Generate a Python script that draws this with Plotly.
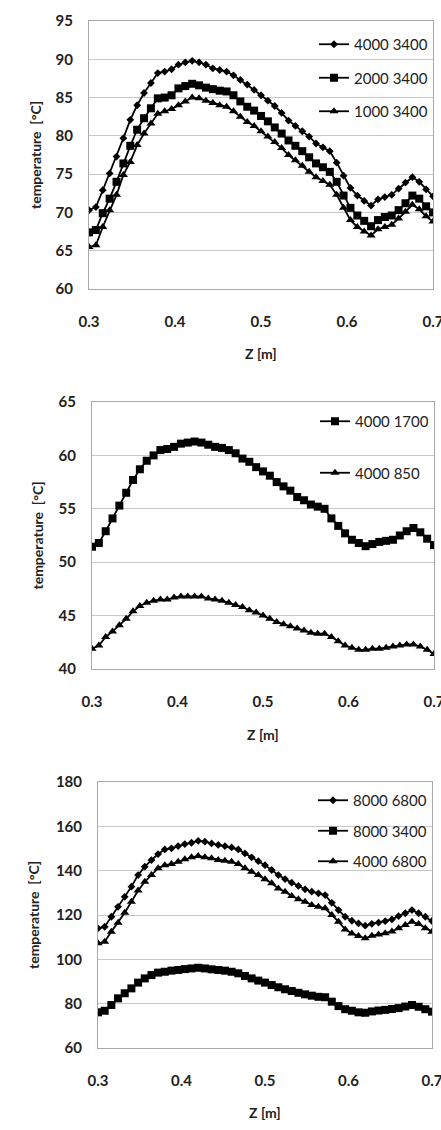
import plotly.graph_objects as go

# ---------------- data ----------------
z = [round(0.3 + 0.008 * i, 3) for i in range(51)]

# Panel 1
p1_4000_3400 = [70.3, 70.7, 72.9, 75.1, 77.3, 79.7, 82.1, 84.0, 85.6, 86.9,
                88.2, 88.4, 88.7, 89.3, 89.6, 89.8, 89.6, 89.3, 88.8, 88.6,
                88.4, 87.9, 87.3, 86.7, 86.0, 85.3, 84.6, 83.9, 83.0, 82.0,
                81.3, 80.6, 79.9, 79.0, 78.5, 78.0, 76.5, 74.8, 73.2, 72.2,
                71.5, 70.9, 71.7, 72.0, 72.3, 73.1, 73.9, 74.6, 74.0, 73.0,
                72.1]
p1_2000_3400 = [67.4, 67.7, 69.9, 71.8, 74.0, 76.4, 78.7, 80.8, 82.3, 83.6,
                84.9, 85.0, 85.3, 86.2, 86.5, 86.8, 86.6, 86.3, 86.1, 85.9,
                85.8, 85.3, 84.5, 83.8, 83.3, 82.6, 81.9, 81.1, 80.3, 79.4,
                78.7, 78.0, 77.2, 76.4, 75.9, 75.3, 74.0, 72.2, 70.6, 69.6,
                68.9, 68.2, 69.0, 69.4, 69.6, 70.3, 71.2, 72.2, 71.8, 70.8,
                70.0]
p1_1000_3400 = [65.5, 65.7, 68.1, 70.3, 72.3, 74.9, 76.6, 78.8, 80.3, 81.6,
                82.9, 83.2, 83.5, 84.0, 84.5, 85.0, 84.9, 84.6, 84.3, 84.0,
                83.8, 83.2, 82.5, 81.8, 81.3, 80.6, 79.9, 79.2, 78.4, 77.5,
                76.8, 76.1, 75.3, 74.6, 74.1, 73.6, 72.3, 70.6, 69.0, 68.1,
                67.5, 67.0, 67.8, 68.1, 68.4, 69.2, 70.1, 71.0, 70.4, 69.5,
                68.8]

# Panel 2
p2_4000_1700 = [51.45, 51.8, 52.9, 54.1, 55.3, 56.5, 57.7, 58.7, 59.5, 60.0,
                60.5, 60.6, 60.8, 61.1, 61.2, 61.3, 61.2, 61.0, 60.8, 60.7,
                60.5, 60.2, 59.7, 59.4, 58.9, 58.5, 58.1, 57.5, 57.1, 56.7,
                56.1, 55.8, 55.4, 55.2, 55.0, 54.1, 53.4, 52.7, 52.1, 51.8,
                51.5, 51.7, 51.9, 52.0, 52.1, 52.5, 52.9, 53.2, 52.8, 52.2,
                51.6]
p2_4000_850 = [41.9, 42.2, 43.0, 43.5, 44.1, 44.7, 45.4, 45.9, 46.2, 46.4,
               46.5, 46.5, 46.7, 46.8, 46.8, 46.8, 46.8, 46.6, 46.5, 46.4,
               46.2, 46.0, 45.8, 45.5, 45.3, 45.0, 44.7, 44.4, 44.2, 44.0,
               43.8, 43.6, 43.4, 43.3, 43.3, 43.0, 42.6, 42.2, 42.0, 41.8,
               41.8, 41.9, 41.9, 42.0, 42.1, 42.2, 42.3, 42.3, 42.1, 41.8,
               41.4]

# Panel 3
p3_8000_6800 = [114.0, 114.7, 119.2, 123.7, 128.2, 132.8, 138.0, 141.8, 144.8, 147.5,
                149.6, 150.1, 151.1, 152.0, 152.6, 153.4, 153.1, 152.3, 151.6, 151.1,
                150.5, 149.6, 147.8, 146.0, 144.3, 142.5, 140.3, 138.0, 136.2, 134.6,
                133.1, 131.6, 130.5, 129.8, 129.0, 125.5, 122.2, 119.2, 117.4, 116.2,
                115.2, 116.0, 116.6, 117.2, 118.0, 119.5, 120.8, 122.2, 120.8, 119.2,
                117.3]
p3_8000_3400 = [76.1, 76.8, 79.4, 82.4, 84.7, 86.9, 89.5, 91.4, 92.9, 94.0,
                94.4, 94.9, 95.2, 95.6, 95.9, 96.2, 95.9, 95.5, 95.2, 94.9,
                94.4, 93.7, 92.5, 91.4, 90.4, 89.5, 88.4, 87.4, 86.5, 85.7,
                84.9, 84.2, 83.6, 83.1, 82.9, 80.9, 78.9, 77.5, 76.8, 76.1,
                75.9, 76.5, 76.9, 77.2, 77.6, 78.0, 78.7, 79.4, 78.6, 77.5,
                76.4]
p3_4000_6800 = [107.2, 107.9, 112.5, 116.5, 121.0, 126.0, 131.0, 135.0, 138.0, 141.1,
                142.5, 143.0, 144.0, 145.1, 146.0, 146.6, 146.0, 145.6, 144.8, 144.5,
                144.0, 143.0, 141.1, 139.5, 138.0, 136.1, 134.3, 132.0, 130.5, 128.6,
                127.1, 126.0, 124.5, 123.7, 123.0, 120.0, 117.0, 113.5, 111.7, 110.5,
                109.5, 110.6, 111.2, 111.8, 112.6, 114.0, 115.5, 117.0, 115.9, 114.0,
                112.5]

x_ticks = [0.3, 0.4, 0.5, 0.6, 0.7]
y1_ticks = [60, 65, 70, 75, 80, 85, 90, 95]
y2_ticks = [40, 45, 50, 55, 60, 65]
y3_ticks = [60, 80, 100, 120, 140, 160, 180]

x_title = "Z [m]"
y_title = "temperature  [°C]"

# ---------------- figure ----------------
W, H = 441, 1130
FONT = "Lato"
fig = go.Figure()

MK = {"diamond": ("diamond", 6), "square": ("square", 8), "triangle": ("triangle-up", 8)}

def add(x, y, name, mk, xa, ya, leg, grp):
    sym, size = MK[mk]
    fig.add_trace(go.Scatter(
        x=x, y=y, name=name, mode="lines+markers",
        line=dict(color="black", width=1.8),
        marker=dict(symbol=sym, size=size, color="black"),
        xaxis=xa, yaxis=ya, legend=leg, legendgroup=grp,
    ))

add(z, p1_4000_3400, "4000 3400", "diamond", "x", "y", "legend", "a1")
add(z, p1_2000_3400, "2000 3400", "square", "x", "y", "legend", "a2")
add(z, p1_1000_3400, "1000 3400", "triangle", "x", "y", "legend", "a3")
add(z, p2_4000_1700, "4000 1700", "square", "x2", "y2", "legend2", "b1")
add(z, p2_4000_850, "4000 850", "triangle", "x2", "y2", "legend2", "b2")
add(z, p3_8000_6800, "8000 6800", "diamond", "x3", "y3", "legend3", "c1")
add(z, p3_8000_3400, "8000 3400", "square", "x3", "y3", "legend3", "c2")
add(z, p3_4000_6800, "4000 6800", "triangle", "x3", "y3", "legend3", "c3")

# plot areas in pixels (left, right, top, bottom)
areas = [(89, 433, 21, 289), (92, 434, 402, 669), (98, 432, 782, 1048)]
yranges = [(60, 95), (40, 65), (60, 180)]
yticks = [y1_ticks, y2_ticks, y3_ticks]

tickfont = dict(family=FONT, size=15, color="#222222", weight="bold")
layout = {}
for k, ((l, r, t, b), yr, yt) in enumerate(zip(areas, yranges, yticks)):
    sfx = "" if k == 0 else str(k + 1)
    layout["xaxis" + sfx] = dict(
        domain=[l / W, r / W], anchor="y" + sfx, range=[0.3, 0.7],
        tickvals=x_ticks, ticktext=[f"{v:.1f}" for v in x_ticks],
        showgrid=False, zeroline=False, showline=True, mirror=True,
        linecolor="#a8a8a8", linewidth=1, ticks="", tickfont=tickfont,
        ticklabelstandoff=19, ticklabeloverflow="allow",
        automargin=False, fixedrange=True,
    )
    layout["yaxis" + sfx] = dict(
        domain=[1 - b / H, 1 - t / H], anchor="x" + sfx, range=list(yr),
        tickvals=yt, showgrid=True, gridcolor="#c8c8c8", gridwidth=1,
        zeroline=False, showline=True, mirror=True, linecolor="#a8a8a8",
        linewidth=1, ticks="", tickfont=tickfont, ticklabelstandoff=12,
        ticklabeloverflow="allow", automargin=False, fixedrange=True,
    )

legfont = dict(family=FONT, size=15, color="#222222")
layout["legend"] = dict(x=433 / W, xanchor="right", y=1 - 28 / H, yanchor="top",
                        font=legfont, bgcolor="rgba(0,0,0,0)", traceorder="grouped",
                        tracegroupgap=11, itemwidth=30)
layout["legend2"] = dict(x=434 / W, xanchor="right", y=1 - 405 / H, yanchor="top",
                         font=legfont, bgcolor="rgba(0,0,0,0)", traceorder="grouped",
                         tracegroupgap=29, itemwidth=30)
layout["legend3"] = dict(x=432 / W, xanchor="right", y=1 - 784 / H, yanchor="top",
                         font=legfont, bgcolor="rgba(0,0,0,0)", traceorder="grouped",
                         tracegroupgap=8, itemwidth=30)

titlefont = dict(family=FONT, size=14, color="#222222", weight="bold")
annotations = []
ytitle_x = [35, 37, 33]
xtitle_y = [354, 734, 1112]
for (l, r, t, b), yx, xy in zip(areas, ytitle_x, xtitle_y):
    annotations.append(dict(text=y_title, x=yx / W, y=1 - (t + b) / 2 / H, xref="paper", yref="paper",
                            textangle=-90, showarrow=False, font=titlefont,
                            xanchor="center", yanchor="middle"))
    annotations.append(dict(text=x_title, x=(l + r) / 2 / W, y=1 - xy / H, xref="paper", yref="paper",
                            showarrow=False, font=titlefont, xanchor="center", yanchor="middle"))

fig.update_layout(
    width=W, height=H, margin=dict(l=0, r=0, t=0, b=0),
    paper_bgcolor="white", plot_bgcolor="white",
    showlegend=True, annotations=annotations, **layout,
)

fig.write_html("out.html", config={"displayModeBar": False})
